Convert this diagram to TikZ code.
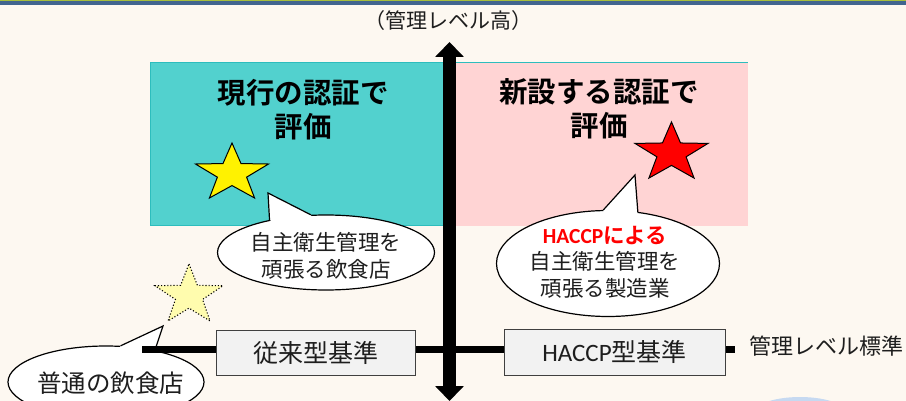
\documentclass[tikz,border=0pt]{standalone}
\usepackage{fontspec}
\setmainfont{Noto Sans CJK JP}[BoldFont={Noto Sans CJK JP Bold}]
\newfontfamily\lat{Carlito}
\usetikzlibrary{shapes.geometric,arrows.meta,calc}
\definecolor{bg}{HTML}{FDF8F1}
\definecolor{bandgreen}{HTML}{A6BF3C}
\definecolor{bandblue}{HTML}{41658F}
\definecolor{cyanfill}{HTML}{52D1CE}
\definecolor{cyanedge}{HTML}{2DBDBD}
\definecolor{pinkfill}{HTML}{FFD4D4}
\definecolor{paleyellow}{HTML}{FFFCAE}
\definecolor{boxfill}{HTML}{F2F2F2}
\definecolor{boxedge}{HTML}{404040}
\definecolor{txt}{HTML}{1E1E1E}
\definecolor{paleblue}{HTML}{C6D9F1}
\newcommand{\calltail}[4]{%
  \fill[white] (#1.#2) -- (#3) -- (#1.#4) -- ($(#1.#4)!0.12!(#1.center)$) -- ($(#1.#2)!0.12!(#1.center)$) -- cycle;
  \draw[callline] (#1.#2) -- (#3) -- (#1.#4);}
\tikzset{
  mystar/.pic={\path[pic actions] (270:1) -- (306:0.4) -- (342:1) -- (18:0.4) -- (54:1) -- (90:0.4) -- (126:1) -- (162:0.4) -- (198:1) -- (234:0.4) -- cycle;},
  callline/.style={line width=1.2pt, black, line join=miter},
  callout/.style={ellipse, draw, fill=white, line width=1.2pt, inner sep=0pt},
  stdbox/.style={draw=boxedge, fill=boxfill, line width=0.9pt, inner sep=0pt, text=txt, font=\fontsize{25}{30}\selectfont},
  heading/.style={align=center, font=\bfseries\fontsize{28.5}{34}\selectfont, text=black},
  calltext/.style={align=center, text=txt, font=\fontsize{21.5}{27}\selectfont},
}
\begin{document}
\begin{tikzpicture}[x=1pt,y=-1pt]
\useasboundingbox (0,0) rectangle (906,401);
\fill[bg] (0,0) rectangle (906,401);
\fill[bandgreen] (0,0) rectangle (906,1.5);
\fill[bandblue] (0,1.5) rectangle (906,5.3);
\fill[paleblue] (800,416) ellipse [x radius=50, y radius=19];

% quadrants
\node[draw=cyanedge, fill=cyanfill, line width=0.6pt, minimum width=296pt, minimum height=163pt, inner sep=0pt, anchor=north west] (cur) at (150,62.5) {};
\node[fill=pinkfill, minimum width=298pt, minimum height=163pt, inner sep=0pt, anchor=north west] (new) at (450,62.5) {};
\draw[cyanedge, line width=0.8pt] (new.north west) -- (new.north east);

\node[heading] (h1) at (303,110) {現行の認証で\\評価};
\node[heading] (h2) at (599,109) {新設する認証で\\評価};

% stars
\coordinate (ys) at (232,173.4);
\coordinate (rs) at (671.5,153);
\coordinate (ps) at (189,295.5);
\pic[draw=black, fill=yellow, line width=1pt, line join=miter, xscale=38.4, yscale=30.4] at (ys) {mystar};
\pic[draw=black, fill=red, line width=1pt, line join=miter, xscale=38.4, yscale=31] at (rs) {mystar};
\pic[draw=black, fill=paleyellow, line width=1.1pt, dotted, xscale=35.7, yscale=31.5] at (ps) {mystar};

% callouts
\coordinate (tip1) at (268,193);
\coordinate (tip2) at (635,175);
\coordinate (tip3) at (163,326);
\node[callout, minimum width=217pt, minimum height=75pt] (c1) at (326,252.5) {};
\calltail{c1}{150}{tip1}{112}
\node[calltext] (t1) at (326,255.5) {自主衛生管理を\\頑張る飲食店};

\node[callout, minimum width=223pt, minimum height=106pt] (c2) at (608,263.5) {};
\calltail{c2}{95}{tip2}{60}
\node[calltext, font=\fontsize{21.5}{26.5}\selectfont] (t2) at (605,262) {{\color{red}\bfseries{\lat HACCP}による}\\自主衛生管理を\\頑張る製造業};

\node[callout, minimum width=196pt, minimum height=72pt] (c3) at (106,382) {};
\calltail{c3}{68}{tip3}{33}

% horizontal axis
\coordinate (hl) at (142,349.5);
\coordinate (hr) at (735,349.5);
\draw[line width=7pt, black] (hl) -- (hr);
\node[calltext, font=\fontsize{24.5}{28}\selectfont] (t3) at (111,383) {普通の飲食店};

\node[stdbox, minimum width=199pt, minimum height=45pt] (b1) at (315.5,352.5) {従来型基準};
\node[stdbox, minimum width=221pt, minimum height=46pt] (b2) at (614.5,352) {{\lat HACCP}型基準};
\node[anchor=west, text=txt, font=\fontsize{22}{26}\selectfont, inner sep=0pt] (std) at (749,346) {管理レベル標準};

% vertical axis
\coordinate (vt) at (449.5,42);
\coordinate (vb) at (449.5,401);
\draw[line width=13pt, black, {Triangle[width=28pt,length=15pt]}-{Triangle[width=28pt,length=15pt]}] (vt) -- (vb);
\node[text=txt, font=\fontsize{21}{25}\selectfont, inner sep=0pt] (title) at (448,21) {（管理レベル高）};
\end{tikzpicture}
\end{document}
